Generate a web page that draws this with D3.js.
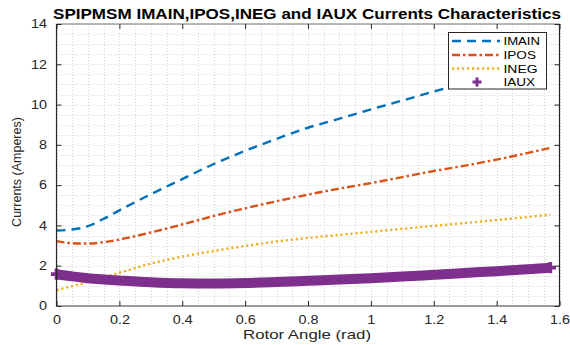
<!DOCTYPE html>
<html>
<head>
<meta charset="utf-8">
<script src="https://cdn.jsdelivr.net/npm/d3@7/dist/d3.min.js"></script>
<style>
  html, body { margin: 0; padding: 0; background: #fff; }
  svg { display: block; font-family: "Liberation Sans", Arial, sans-serif; }
</style>
</head>
<body>
<svg id="chart" width="570" height="345"></svg>
<script>
// Rotor angle samples (rad) and phase currents (A)
const angle = [0, 0.05, 0.1, 0.15, 0.2, 0.3, 0.4, 0.5, 0.6, 0.7, 0.8, 0.9, 1.0, 1.1, 1.2, 1.3, 1.4, 1.5, 1.5708];
const iMain = [3.75, 3.8, 3.96, 4.33, 4.75, 5.55, 6.3, 7.05, 7.7, 8.3, 8.85, 9.3, 9.76, 10.2, 10.65, 11.05, 11.45, 11.8, 12.05];
const iPos  = [3.22, 3.12, 3.1, 3.17, 3.3, 3.65, 4.05, 4.47, 4.85, 5.2, 5.53, 5.83, 6.1, 6.4, 6.7, 6.97, 7.27, 7.6, 7.85];
const iNeg  = [0.78, 0.99, 1.2, 1.43, 1.65, 2.1, 2.45, 2.73, 2.98, 3.2, 3.38, 3.53, 3.68, 3.83, 3.98, 4.12, 4.27, 4.42, 4.54];
const iAux  = [1.58, 1.47, 1.38, 1.32, 1.27, 1.18, 1.13, 1.12, 1.14, 1.19, 1.25, 1.31, 1.38, 1.46, 1.55, 1.64, 1.73, 1.83, 1.9];

const xTicks = [0, 0.2, 0.4, 0.6, 0.8, 1, 1.2, 1.4, 1.6];
const yTicks = [0, 2, 4, 6, 8, 10, 12, 14];
const seriesNames = ["IMAIN", "IPOS", "INEG", "IAUX"];
const seriesColors = ["#0072BD", "#D95319", "#EDB120", "#7E2F8E"];

const svg = d3.select("#chart");
const L = 56.5, R = 559.5, T = 24, B = 306;
const stretch = "scale(1.2,1)";   // wide glyph rendering of horizontal labels

const x = d3.scaleLinear().domain([0, 1.6]).range([L, R]);
const y = d3.scaleLinear().domain([0, 14]).range([B, T]);

// minor + major grid (dotted)
const grid = svg.append("g");
const xMinor = d3.range(0, 1.6001, 0.05);
const yMinor = d3.range(0, 14.001, 0.5);
grid.selectAll("line.gx").data(xMinor).join("line")
  .attr("x1", d => Math.round(x(d)) + 0.5).attr("x2", d => Math.round(x(d)) + 0.5)
  .attr("y1", T).attr("y2", B)
  .attr("stroke", "#d4d4d4").attr("stroke-width", 1).attr("stroke-dasharray", "1,2");
grid.selectAll("line.gy").data(yMinor).join("line")
  .attr("y1", d => Math.round(y(d)) + 0.5).attr("y2", d => Math.round(y(d)) + 0.5)
  .attr("x1", L).attr("x2", R)
  .attr("stroke", "#d4d4d4").attr("stroke-width", 1).attr("stroke-dasharray", "1,2");

// curves
const line = d3.line().x((d, i) => x(angle[i])).y(d => y(d)).curve(d3.curveMonotoneX);
const styles = [
  { data: iMain, w: 2.4, dash: "9,6" },
  { data: iPos,  w: 2.4, dash: "8,3,2.5,3" },
  { data: iNeg,  w: 2.4, dash: "2.2,2.8" },
];
styles.forEach((s, k) => {
  svg.append("path").attr("d", line(s.data))
    .attr("fill", "none").attr("stroke", seriesColors[k])
    .attr("stroke-width", s.w).attr("stroke-dasharray", s.dash);
});
// IAUX: densely packed plus markers read as one thick band
svg.append("path").attr("d", line(iAux))
  .attr("fill", "none").attr("stroke", seriesColors[3]).attr("stroke-width", 10);
const plus = d3.symbol().type(d3.symbolCross).size(70);
svg.selectAll("path.mk").data([0, iAux.length - 1]).join("path")
  .attr("transform", i => `translate(${x(angle[i])},${y(iAux[i])})`)
  .attr("d", plus).attr("fill", seriesColors[3]);

// frame
const frame = svg.append("g").attr("fill", "none");
frame.append("line").attr("x1", L).attr("x2", R).attr("y1", T).attr("y2", T).attr("stroke", "#a0a0a0").attr("stroke-width", 1.6);
frame.append("line").attr("x1", L).attr("x2", R).attr("y1", B).attr("y2", B).attr("stroke", "#404040").attr("stroke-width", 1.2);
frame.append("line").attr("x1", L).attr("x2", L).attr("y1", T).attr("y2", B).attr("stroke", "#262626").attr("stroke-width", 1.2);
frame.append("line").attr("x1", R).attr("x2", R).attr("y1", T).attr("y2", B).attr("stroke", "#262626").attr("stroke-width", 1.2);

// axes with inward ticks
const tickLen = 5;
const axB = svg.append("g").attr("transform", `translate(0,${B})`)
  .call(d3.axisBottom(x).tickValues(xTicks).tickSize(-tickLen).tickPadding(9).tickFormat(d3.format("~g")));
const axT = svg.append("g").attr("transform", `translate(0,${T})`)
  .call(d3.axisTop(x).tickValues(xTicks).tickSize(-tickLen).tickFormat(""));
const axL = svg.append("g").attr("transform", `translate(${L},0)`)
  .call(d3.axisLeft(y).tickValues(yTicks).tickSize(-tickLen).tickPadding(8));
const axR = svg.append("g").attr("transform", `translate(${R},0)`)
  .call(d3.axisRight(y).tickValues(yTicks).tickSize(-tickLen).tickFormat(""));
[axB, axT, axL, axR].forEach(a => {
  a.select(".domain").remove();
  a.selectAll(".tick line").attr("stroke", "#262626");
  a.selectAll("text").attr("fill", "#262626").attr("transform", stretch)
    .style("font-family", "'Liberation Sans', Arial, sans-serif").style("font-size", "12px");
});

// titles
svg.append("text").attr("x", 307).attr("y", 19).attr("text-anchor", "middle")
  .attr("textLength", 508).attr("lengthAdjust", "spacingAndGlyphs")
  .style("font-weight", "bold").style("font-size", "14px").attr("fill", "#000")
  .text("SPIPMSM IMAIN,IPOS,INEG and IAUX Currents Characteristics");
svg.append("text").attr("x", 307).attr("y", 339).attr("text-anchor", "middle")
  .attr("textLength", 128).attr("lengthAdjust", "spacingAndGlyphs")
  .style("font-size", "13px").attr("fill", "#262626").text("Rotor Angle (rad)");
svg.append("text").attr("transform", "translate(21,172) rotate(-90)").attr("text-anchor", "middle")
  .style("font-size", "12.5px").attr("fill", "#262626").text("Currents (Amperes)");

// legend
const lg = svg.append("g");
lg.append("rect").attr("x", 448.5).attr("y", 32.5).attr("width", 98).attr("height", 56.5)
  .attr("fill", "#fff").attr("stroke", "#262626").attr("stroke-width", 1);
const rowY = [41, 55, 68.5, 82];
const labelW = [36.5, 32.5, 34, 31.5];
seriesNames.forEach((name, k) => {
  if (k < 3) {
    lg.append("line").attr("x1", 452).attr("x2", 500).attr("y1", rowY[k]).attr("y2", rowY[k])
      .attr("stroke", seriesColors[k]).attr("stroke-width", 2.4).attr("stroke-dasharray", styles[k].dash);
  } else {
    lg.append("path").attr("transform", `translate(477,${rowY[k]})`)
      .attr("d", d3.symbol().type(d3.symbolCross).size(45)).attr("fill", seriesColors[k]);
  }
  lg.append("text").attr("x", 503.5).attr("y", rowY[k] + 4).style("font-size", "11.5px")
    .attr("textLength", labelW[k]).attr("lengthAdjust", "spacingAndGlyphs")
    .attr("fill", "#000").text(name);
});
</script>
</body>
</html>
